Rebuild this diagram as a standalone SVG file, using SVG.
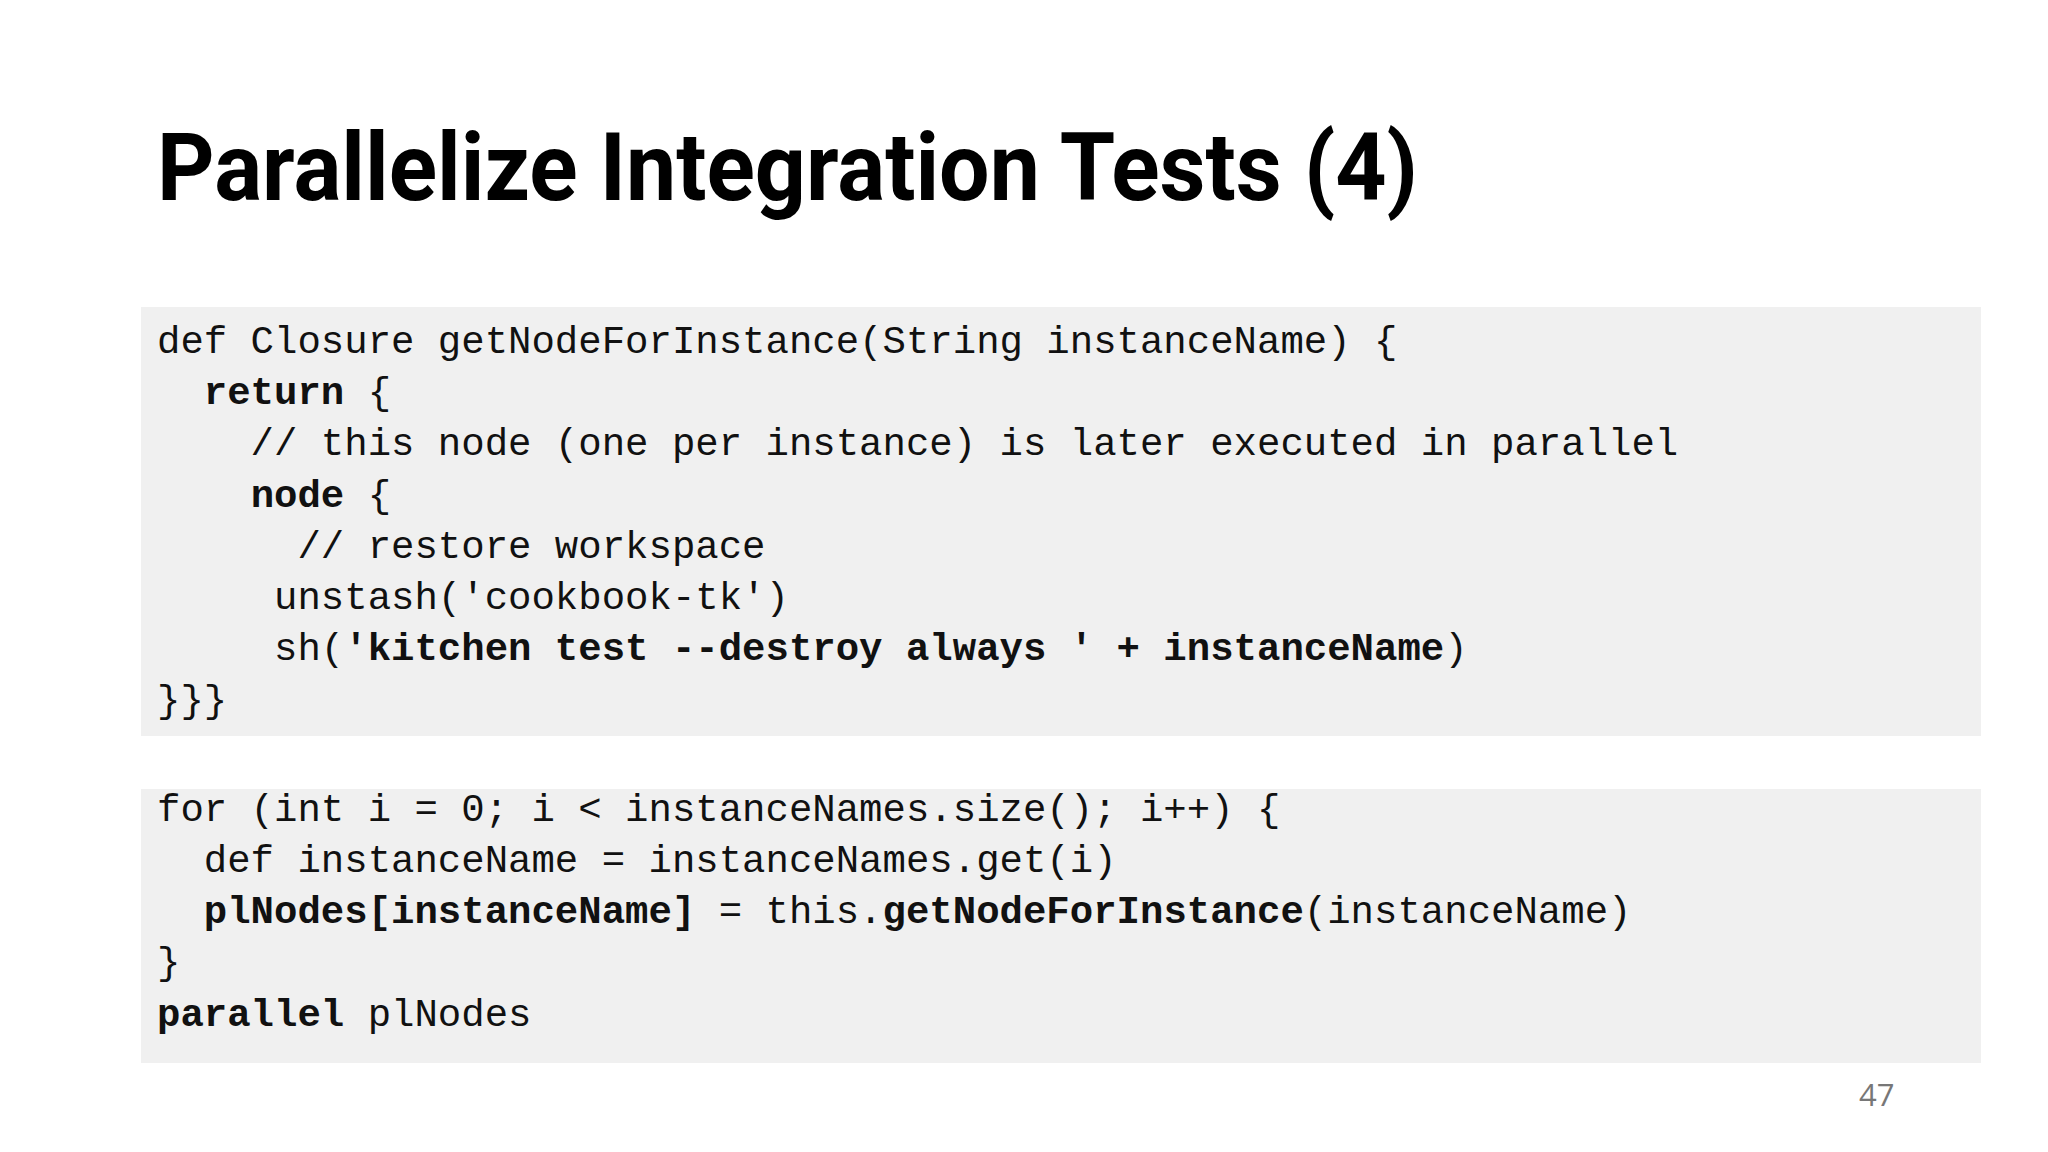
<svg xmlns="http://www.w3.org/2000/svg" width="2048" height="1152" viewBox="0 0 2048 1152">
<style>
.box{fill:#f0f0f0}
.c{font-family:"Liberation Mono","DejaVu Sans Mono",monospace;font-size:39px;fill:#111}
.b{font-weight:bold}
</style>
<rect width="2048" height="1152" fill="#fff"/>
<text x="157" y="200" font-family="Roboto,'Open Sans',sans-serif" font-weight="bold" font-size="94" fill="#000" textLength="1261" lengthAdjust="spacingAndGlyphs">Parallelize Integration Tests (4)</text>
<g id="code1">
<rect class="box" x="141" y="307" width="1840" height="429"/>
<text class="c" xml:space="preserve"><tspan x="157" y="353">def Closure getNodeForInstance(String instanceName) {</tspan><tspan x="157" y="404">  <tspan class="b">return</tspan> {</tspan><tspan x="157" y="455">    // this node (one per instance) is later executed in parallel</tspan><tspan x="157" y="507">    <tspan class="b">node</tspan> {</tspan><tspan x="157" y="558">      // restore workspace</tspan><tspan x="157" y="609">     unstash('cookbook-tk')</tspan><tspan x="157" y="660">     sh(<tspan class="b">'kitchen test --destroy always ' + instanceName</tspan>)</tspan><tspan x="157" y="712">}}}</tspan></text>
</g>
<g id="code2">
<rect class="box" x="141" y="789" width="1840" height="274"/>
<text class="c" xml:space="preserve"><tspan x="157" y="821">for (int i = 0; i &lt; instanceNames.size(); i++) {</tspan><tspan x="157" y="872">  def instanceName = instanceNames.get(i)</tspan><tspan x="157" y="923">  <tspan class="b">plNodes[instanceName]</tspan> = this.<tspan class="b">getNodeForInstance</tspan>(instanceName)</tspan><tspan x="157" y="974">}</tspan><tspan x="157" y="1026"><tspan class="b">parallel</tspan> plNodes</tspan></text>
</g>
<text x="1859" y="1106" font-family="'Open Sans',sans-serif" font-size="31" fill="#777">47</text>
</svg>
